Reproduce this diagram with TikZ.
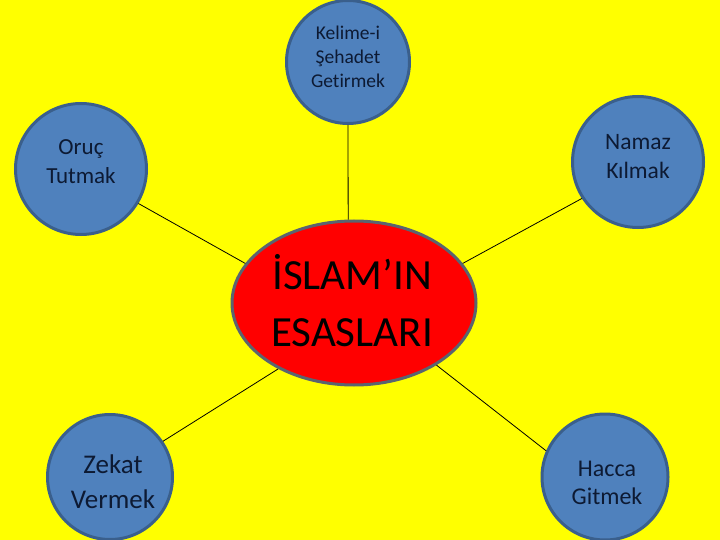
\documentclass[tikz,border=0pt]{standalone}
\usepackage{fontspec}
\setmainfont{Carlito}[Ligatures=NoCommon]
\usetikzlibrary{shapes.geometric}
\definecolor{bg}{HTML}{FFFF00}
\definecolor{bluefill}{HTML}{4F81BD}
\definecolor{blueline}{HTML}{3A5F8C}
\definecolor{navytext}{HTML}{0D1A33}
\definecolor{ellline}{HTML}{5A6470}
\tikzset{
  pillar/.style={circle, fill=bluefill, draw=blueline, line width=3pt, inner sep=0pt, text=navytext, align=center},
  core/.style={ellipse, fill=red, draw=ellline, line width=3pt, inner sep=0pt, minimum width=244pt, minimum height=164pt, text=black, align=center},
  link/.style={draw=black, line width=0.8pt},
  lbl/.style={text=navytext, align=center, inner sep=0pt}
}
\begin{document}
\begin{tikzpicture}[x=1pt,y=-1pt]
\fill[bg] (0,0) rectangle (720,540);
\useasboundingbox (0,0) rectangle (720,540);
\node[core] (core) at (354,303) {};
\node[pillar, minimum size=123pt] (kelime) at (348,62) {};
\node[pillar, minimum size=131pt] (oruc) at (81,169) {};
\node[pillar, minimum size=131pt] (namaz) at (638,162) {};
\node[pillar, minimum size=125pt] (zekat) at (110,477) {};
\node[pillar, minimum size=126pt] (hacca) at (605,477) {};
\draw[link] (kelime.south) -- (core.94);
\draw[link] (oruc.-31) -- (core.160);
\draw[link] (namaz.213) -- (core.20);
\draw[link] (zekat.34) -- (core.221);
\draw[link] (hacca.156) -- (core.-37);
\node[lbl, font=\fontsize{19.5}{24}\selectfont] (kelimet) at (348,57) {Kelime-i\\Şehadet\\Getirmek};
\node[lbl, font=\fontsize{23}{29}\selectfont] (oruct) at (81,162) {Oruç\\Tutmak};
\node[lbl, font=\fontsize{23.5}{29}\selectfont] (namazt) at (638,157) {Namaz\\Kılmak};
\node[lbl, font=\fontsize{27}{35}\selectfont] (zekatt) at (113,482) {Zekat\\Vermek};
\node[lbl, font=\fontsize{24}{28}\selectfont] (haccat) at (607,483) {Hacca\\Gitmek};
\node[lbl, text=black, font=\fontsize{43}{57}\selectfont] (coret) at (352,301) {İSLAM’IN\\ESASLARI};
\end{tikzpicture}
\end{document}
